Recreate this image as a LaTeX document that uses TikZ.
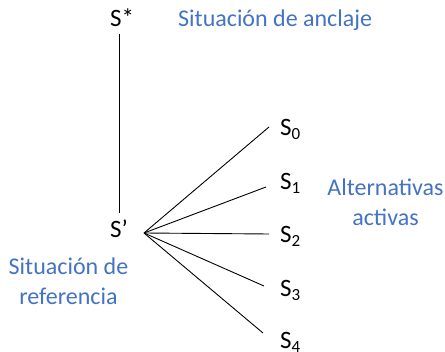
\documentclass[tikz,border=0pt]{standalone}
\usepackage{fontspec}
\setmainfont{Carlito}
\definecolor{offblue}{HTML}{4472C4}
\newcommand{\subsc}[1]{\raisebox{-3.5pt}{\fontsize{17}{17}\selectfont #1}}
\begin{document}
\begin{tikzpicture}[x=1pt,y=-1pt,
  lbl/.style={font=\fontsize{25}{30}\selectfont, inner sep=0pt, anchor=base west},
  note/.style={font=\fontsize{24}{30}\selectfont, text=offblue, inner sep=0pt, align=center},
  conn/.style={line width=0.9pt}]
\useasboundingbox (0,0) rectangle (445,352);
\node[lbl] (Sstar) at (110,27) {S*};
\node[lbl] (Sp) at (110,238) {S’};
\node[lbl] (S0) at (280,136) {S\subsc{0}};
\node[lbl] (S1) at (280,190) {S\subsc{1}};
\node[lbl] (S2) at (280,243) {S\subsc{2}};
\node[lbl] (S3) at (280,297) {S\subsc{3}};
\node[lbl] (S4) at (280,349) {S\subsc{4}};
\node[note, anchor=base west] (anc) at (178,27) {Situación de anclaje};
\node[note] (ref) at (68.5,281) {Situación de\\referencia};
\node[note] (alt) at (385.5,202) {Alternativas\\activas};
\coordinate (vtop) at (119,34);
\coordinate (vbot) at (119,213);
\coordinate (apex) at (144,233);
\coordinate (e0) at (269,127);
\coordinate (e1) at (266,187);
\coordinate (e2) at (269,234);
\coordinate (e3) at (264,286);
\coordinate (e4) at (263,333);
\draw[conn] (vtop) -- (vbot);
\foreach \e in {e0,e1,e2,e3,e4} \draw[conn] (apex) -- (\e);
\end{tikzpicture}
\end{document}
